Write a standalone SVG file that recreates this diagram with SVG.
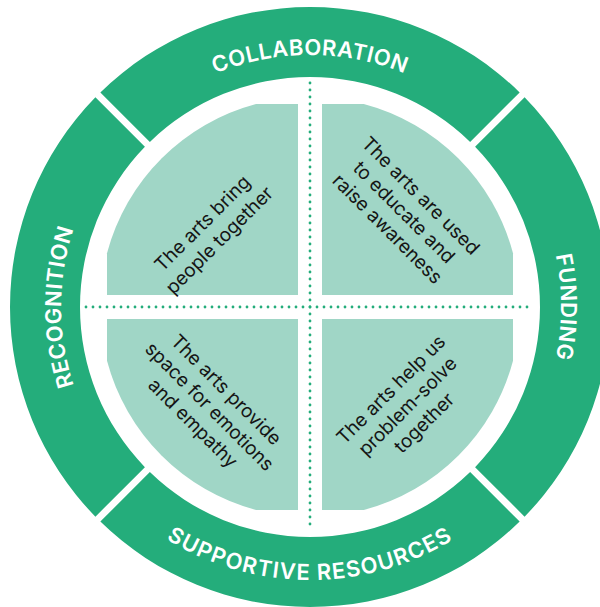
<svg xmlns="http://www.w3.org/2000/svg" width="600" height="607" viewBox="0 0 600 607">
<style>
.seg{fill:#24ad7b}
.quad{fill:#a0d6c6}
.ring{font-family:Inter,"Liberation Sans",Arial,sans-serif;font-size:22px;font-weight:600;fill:#fff;letter-spacing:0.5px}
.inner{font-family:Inter,"Liberation Sans",Arial,sans-serif;font-size:19px;fill:#151515;text-anchor:middle}
.dots{stroke:#24ad7b;stroke-width:2.8;stroke-linecap:round;stroke-dasharray:0 7;fill:none}
</style>
<defs>
<path id="pTop" d="M58,307 A252,252 0 0 1 562,307"/>
<path id="pLeft" d="M310,556 A249,249 0 0 1 310,58"/>
<path id="pRight" d="M310,56 A251,251 0 0 1 310,558"/>
<path id="pBottom" d="M37,307 A273,273 0 0 0 583,307"/>
</defs>
<rect width="600" height="607" fill="#fff"/>
<g id="collaboration">
<path class="seg" d="M100.36,92.41 A300,300 0 0 1 519.65,92.41 L470.14,141.91 A230,230 0 0 0 149.86,141.91 Z"/>
<text class="ring"><textPath href="#pTop" startOffset="50%" text-anchor="middle">COLLABORATION</textPath></text>
</g>
<g id="funding">
<path class="seg" d="M524.59,97.36 A300,300 0 0 1 524.59,516.65 L475.09,467.14 A230,230 0 0 0 475.09,146.86 Z"/>
<text class="ring"><textPath href="#pRight" startOffset="50%" text-anchor="middle">FUNDING</textPath></text>
</g>
<g id="supportive-resources">
<path class="seg" d="M519.65,521.59 A300,300 0 0 1 100.36,521.59 L149.86,472.09 A230,230 0 0 0 470.14,472.09 Z"/>
<text class="ring" style="letter-spacing:1.2px"><textPath href="#pBottom" startOffset="50%" text-anchor="middle">SUPPORTIVE RESOURCES</textPath></text>
</g>
<g id="recognition">
<path class="seg" d="M95.41,516.65 A300,300 0 0 1 95.41,97.36 L144.91,146.86 A230,230 0 0 0 144.91,467.14 Z"/>
<text class="ring"><textPath href="#pLeft" startOffset="50%" text-anchor="middle">RECOGNITION</textPath></text>
</g>
<g id="q-bring-together">
<path class="quad" d="M298,295 L107,295 L107,253.23 A210,210 0 0 1 256.23,104 L298,104 Z"/>
<g transform="translate(210.8,231.7) rotate(-45)">
<text class="inner" y="-5.4">The arts bring</text>
<text class="inner" y="18.6">people together</text>
</g>
</g>
<g id="q-educate">
<path class="quad" d="M322,295 L322,104 L363.77,104 A210,210 0 0 1 513,253.23 L513,295 Z"/>
<g transform="translate(404.2,212.2) rotate(45)">
<text class="inner" y="-16.9">The arts are used</text>
<text class="inner" y="6.6">to educate and</text>
<text class="inner" y="30.1">raise awareness</text>
</g>
</g>
<g id="q-emotions">
<path class="quad" d="M298,319 L298,510 L256.23,510 A210,210 0 0 1 107,360.77 L107,319 Z"/>
<g transform="translate(209.7,406.4) rotate(45)">
<text class="inner" y="-16.9">The arts provide</text>
<text class="inner" y="6.6">space for emotions</text>
<text class="inner" y="30.1">and empathy</text>
</g>
</g>
<g id="q-problem-solve">
<path class="quad" d="M322,319 L513,319 L513,360.77 A210,210 0 0 1 363.77,510 L322,510 Z"/>
<g transform="translate(407.5,406.1) rotate(-45)">
<text class="inner" y="-16.9">The arts help us</text>
<text class="inner" y="6.6">problem-solve</text>
<text class="inner" y="30.1">together</text>
</g>
</g>
<g id="connectors">
<line class="dots" x1="310" y1="83" x2="310" y2="531"/>
<line class="dots" x1="86" y1="307" x2="534" y2="307"/>
</g>
</svg>
